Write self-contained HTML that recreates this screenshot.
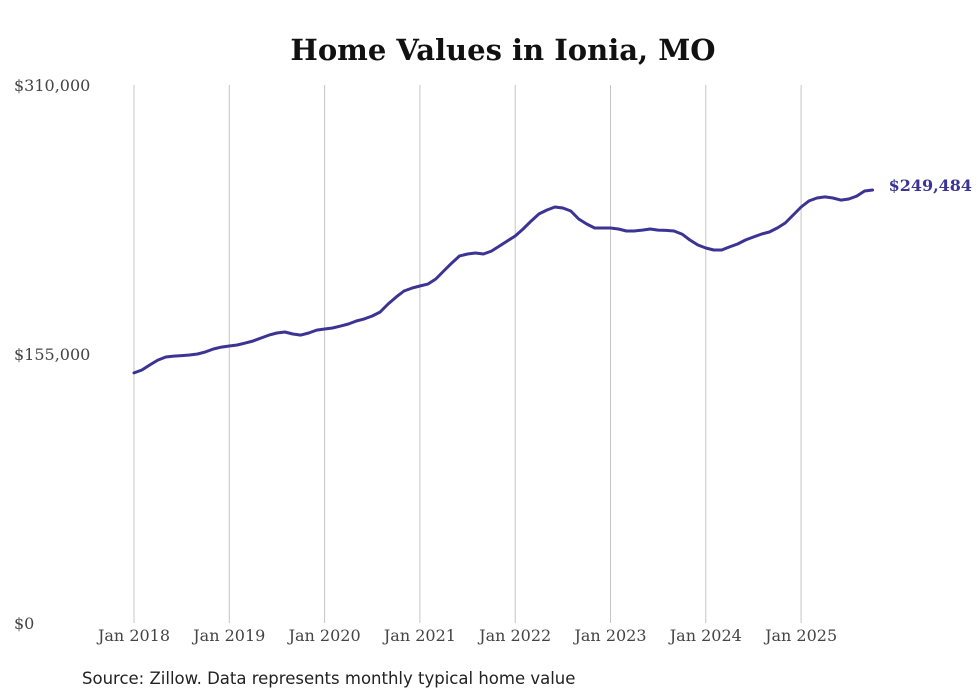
<!DOCTYPE html>
<html><head><meta charset="utf-8"><style>
body{margin:0;background:#fff;}
svg{display:block;}
</style></head><body>
<svg id="chart" width="980" height="699" xmlns="http://www.w3.org/2000/svg">
<text x="503" y="60" text-anchor="middle" font-family="DejaVu Serif, Liberation Serif, serif" font-weight="bold" font-size="29" fill="#111">Home Values in Ionia, MO</text>
<g id="grid"></g>
<g id="yaxis"></g>
<g id="xaxis"></g>
<g id="series"></g>
<text x="82" y="684" font-family="DejaVu Sans, Liberation Sans, sans-serif" font-size="16.5" fill="#222">Source: Zillow. Data represents monthly typical home value</text>
</svg>
<script>
const yTicks = [0, 155000, 310000];
const yTickLabels = ["$0", "$155,000", "$310,000"];
const xTickYears = [2018, 2019, 2020, 2021, 2022, 2023, 2024, 2025];
const xTickLabels = ["Jan 2018","Jan 2019","Jan 2020","Jan 2021","Jan 2022","Jan 2023","Jan 2024","Jan 2025"];
const startYear = 2018;
const values = [
144.1,145.8,148.7,151.5,153.3,153.8,154.1,154.4,155.0,156.2,157.9,159.0,
159.6,160.2,161.3,162.5,164.2,165.9,167.1,167.7,166.5,165.9,167.1,168.8,
169.4,170.0,171.1,172.3,174.0,175.2,176.9,179.2,183.8,187.8,191.3,193.0,
194.2,195.3,198.2,202.8,207.4,211.5,212.6,213.2,212.6,214.3,217.2,220.1,
223.0,227.0,231.6,235.7,238.0,239.7,239.1,237.4,232.8,229.9,227.6,227.6,
227.6,227.0,225.9,225.9,226.4,227.0,226.4,226.2,225.9,224.1,220.7,217.8,
216.1,214.9,214.9,216.7,218.4,220.7,222.4,224.1,225.3,227.6,230.5,235.1,
239.7,243.2,244.9,245.5,244.9,243.7,244.3,246.0,248.9,249.484
].map(v => v * 1000);
const lastLabel = "$249,484";

const NS = "http://www.w3.org/2000/svg";
const x0 = 134, pxPerYear = 95.3, yTop = 85, yBot = 623, yMax = 310000;
const xScale = m => x0 + m * pxPerYear / 12;
const yScale = v => yBot - v / yMax * (yBot - yTop);
function mk(tag, attrs, parent){const e=document.createElementNS(NS,tag);for(const k in attrs)e.setAttribute(k,attrs[k]);parent.appendChild(e);return e;}

const grid = document.getElementById('grid');
const xaxis = document.getElementById('xaxis');
xTickYears.forEach((yr,i)=>{
  const x = xScale((yr-startYear)*12);
  const l = mk('line',{x1:x,x2:x,y1:yTop,y2:yBot,stroke:'#c4c4c4','stroke-width':1},grid);
  
  
  const t = mk('text',{x:x,y:641,'text-anchor':'middle','font-family':'DejaVu Serif, Liberation Serif, serif','font-size':16,fill:'#444'},xaxis);
  t.textContent = xTickLabels[i];
  
  
});
const yaxis = document.getElementById('yaxis');
yTicks.forEach((v,i)=>{
  const t = mk('text',{x:14,y:yScale(v)+6,'font-family':'DejaVu Serif, Liberation Serif, serif','font-size':16,fill:'#444'},yaxis);
  t.textContent = yTickLabels[i];
  
  
});
const series = document.getElementById('series');
const d = values.map((v,i)=>(i?'L':'M')+xScale(i).toFixed(1)+','+yScale(v).toFixed(1)).join(' ');
const p = mk('path',{d:d,fill:'none',stroke:'#3b3494','stroke-width':3,'stroke-linejoin':'round','stroke-linecap':'round'},series);


const li = values.length-1;
const lt = mk('text',{x:xScale(li)+16,y:yScale(values[li])+1,'font-family':'DejaVu Serif, Liberation Serif, serif','font-size':16,'font-weight':'bold',fill:'#3b3494'},series);
lt.textContent = lastLabel;


</script>
</body></html>
